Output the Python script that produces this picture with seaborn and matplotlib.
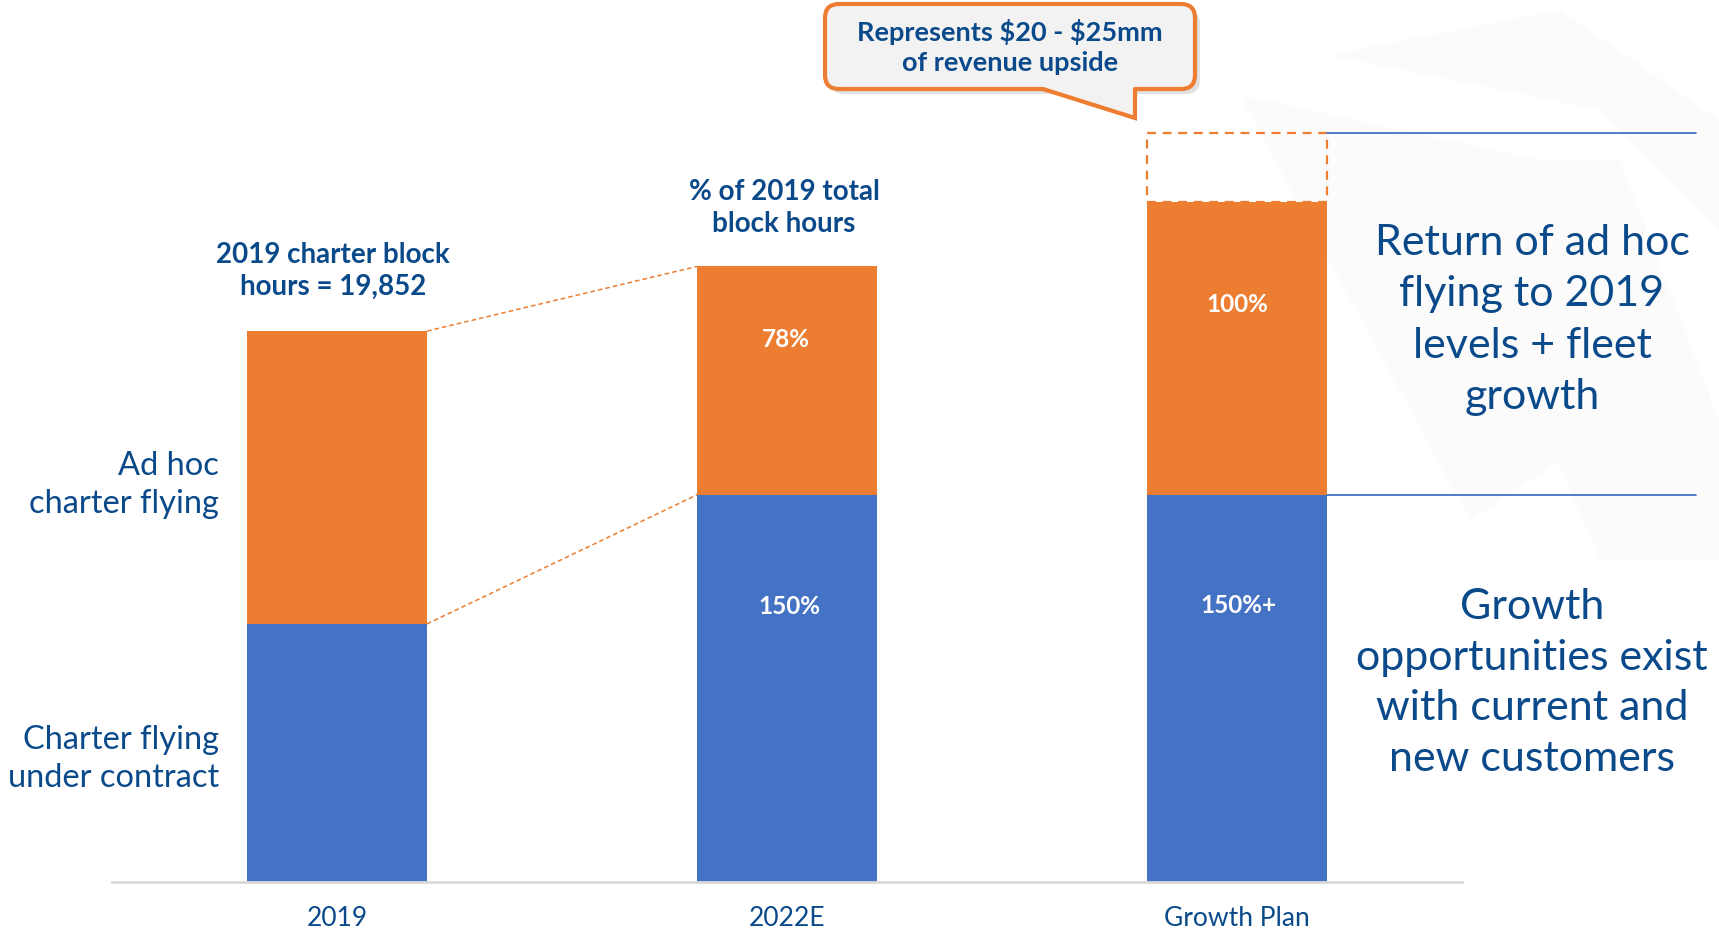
import numpy as np
import matplotlib.pyplot as plt
import matplotlib.patches as mpatches
import seaborn as sns

categories = ["2019", "2022E", "Growth Plan"]
contract_hours = [9300, 13950, 13950]
adhoc_hours = [10550, 8230, 10550]
upside_hours = [0, 0, 2490]
contract_labels = ["", "150%", "150%+"]
adhoc_labels = ["", "78%", "100%"]

BLUE = "#4472C4"
ORANGE = "#ED7D31"
NAVY = "#0B4A8A"

sns.set_style("white")
plt.rcParams["font.family"] = ["Lato", "DejaVu Sans"]

W, H = 1719, 930
fig = plt.figure(figsize=(W / 100, H / 100), dpi=100)

# faint watermark shapes behind everything
bg = fig.add_axes([0, 0, 1, 1], zorder=0)
bg.set_xlim(0, W)
bg.set_ylim(H, 0)
bg.axis("off")
bg.add_patch(mpatches.Polygon([(1330, 55), (1560, 10), (1719, 120), (1719, 230), (1600, 110)],
                              closed=True, fc="#FBFBFB", ec="none"))
bg.add_patch(mpatches.Polygon([(1240, 95), (1470, 520), (1620, 420), (1540, 160)],
                              closed=True, fc="#FBFBFB", ec="none"))
bg.add_patch(mpatches.Polygon([(1430, 160), (1620, 160), (1719, 420), (1719, 560), (1600, 560)],
                              closed=True, fc="#FBFBFB", ec="none"))

ax = fig.add_axes([112 / W, 48 / H, 1350 / W, 882 / H], zorder=1)
ax.patch.set_alpha(0)

totals = np.array(contract_hours) + np.array(adhoc_hours)
sns.barplot(x=categories, y=totals, color=ORANGE, saturation=1, width=0.4,
            errorbar=None, linewidth=0, ax=ax)
sns.barplot(x=categories, y=contract_hours, color=BLUE, saturation=1, width=0.4,
            errorbar=None, linewidth=0, ax=ax)

# dashed box for the upside on top of the growth bar
for i, up in enumerate(upside_hours):
    if up > 0:
        ax.bar(i, up, bottom=totals[i], width=0.4, fill=False, edgecolor=ORANGE,
               linestyle=(0, (4, 3)), linewidth=1.6)

# connectors 2019 -> 2022E
ax.plot([0.2, 0.8], [totals[0], totals[1]], color=ORANGE, lw=1.1, ls=(0, (3, 2)))
ax.plot([0.2, 0.8], [contract_hours[0], contract_hours[1]], color=ORANGE, lw=1.1, ls=(0, (3, 2)))

# brackets to the right of growth plan
top = totals[2] + upside_hours[2]
ax.plot([2.2, 3.02], [top, top], color=BLUE, lw=1.3, clip_on=False)
ax.plot([2.2, 3.02], [contract_hours[2], contract_hours[2]], color=BLUE, lw=1.3, clip_on=False)

ax.set_xlim(-0.5, 2.5)
ax.set_ylim(0, 31780)
ax.set_yticks([])
ax.set_ylabel("")
sns.despine(ax=ax, left=True)
ax.spines["bottom"].set_color("#D9D9D9")
ax.spines["bottom"].set_linewidth(2)
ax.tick_params(axis="x", length=0, pad=17, labelsize=19, labelcolor=NAVY)

# overlay in pixel coordinates for annotations
ov = fig.add_axes([0, 0, 1, 1], zorder=5)
ov.set_xlim(0, W)
ov.set_ylim(H, 0)
ov.axis("off")

ov.text(333, 271, "2019 charter block\nhours = 19,852", ha="center", va="center",
        fontsize=20, fontweight="bold", color=NAVY, linespacing=1.27)
ov.text(784, 208, "% of 2019 total\nblock hours", ha="center", va="center",
        fontsize=20, fontweight="bold", color=NAVY, linespacing=1.27)

ov.text(786, 339, adhoc_labels[1], ha="center", va="center", fontsize=17.5,
        fontweight="bold", color="white")
ov.text(789, 606, contract_labels[1], ha="center", va="center", fontsize=17.5,
        fontweight="bold", color="white")
ov.text(1237, 304, adhoc_labels[2], ha="center", va="center", fontsize=17.5,
        fontweight="bold", color="white")
ov.text(1238, 605, contract_labels[2], ha="center", va="center", fontsize=17.5,
        fontweight="bold", color="white")

ov.text(219, 485, "Ad hoc\ncharter flying", ha="right", va="center",
        fontsize=23.5, color=NAVY, linespacing=1.3)
ov.text(219, 759, "Charter flying\nunder contract", ha="right", va="center",
        fontsize=23.5, color=NAVY, linespacing=1.3)

ov.text(1532, 320, "Return of ad hoc\nflying to 2019\nlevels + fleet\ngrowth",
        ha="center", va="center", fontsize=31, color=NAVY, linespacing=1.42)
ov.text(1532, 683, "Growth\nopportunities exist\nwith current and\nnew customers",
        ha="center", va="center", fontsize=31, color=NAVY, linespacing=1.4)

# callout bubble
shadow = mpatches.FancyBboxPatch((830, 10), 370, 84, boxstyle="round,pad=0,rounding_size=14",
                                 fc="#BDBDBD", ec="none", alpha=0.45, zorder=1)
ov.add_patch(shadow)
box = mpatches.FancyBboxPatch((825, 4), 370, 85, boxstyle="round,pad=0,rounding_size=14",
                              fc="#F2F2F2", ec=ORANGE, lw=3, zorder=2)
ov.add_patch(box)
tail = mpatches.Polygon([(1043, 86), (1043, 89), (1135, 118), (1135, 86)],
                        closed=True, fc="#F2F2F2", ec="none", zorder=3)
ov.add_patch(tail)
ov.plot([1043, 1135, 1135], [89, 118, 89], color=ORANGE, lw=3, zorder=4,
        solid_joinstyle="miter")
ov.text(1010, 47, "Represents \\$20 - \\$25mm\nof revenue upside", ha="center", va="center",
        fontsize=19.5, fontweight="bold", color=NAVY, linespacing=1.3, zorder=5)

fig.savefig("out.png", dpi=100)
